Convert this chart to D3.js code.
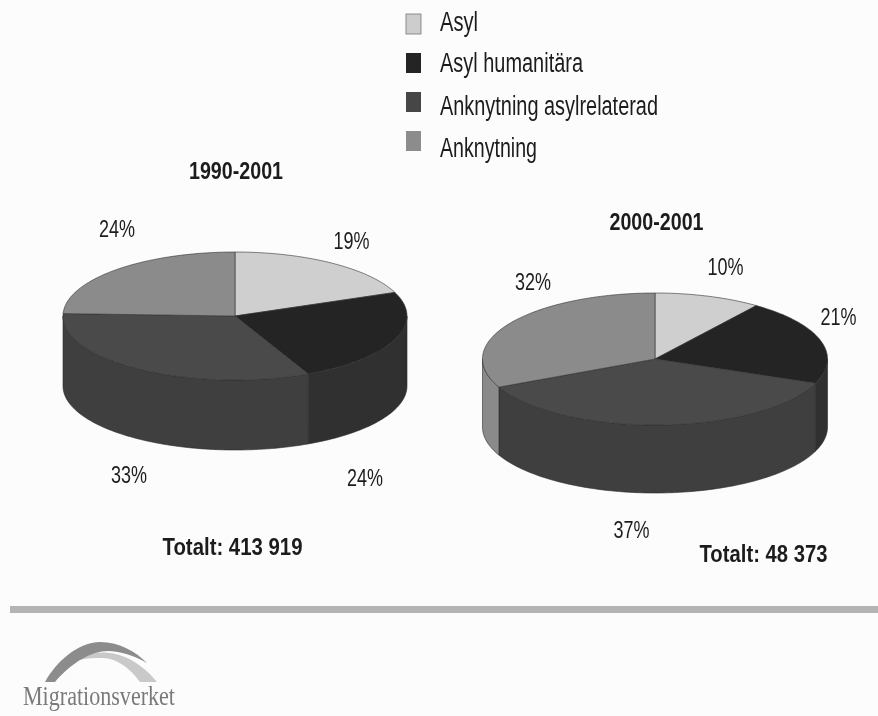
<!DOCTYPE html>
<html><head><meta charset="utf-8">
<script src="https://cdn.jsdelivr.net/npm/d3@7"></script>
<style>
html,body{margin:0;padding:0;background:#fcfcfc;}
svg{display:block;}
text{font-family:"Liberation Sans",Arial,sans-serif;fill:#1c1c1c;}
</style></head><body>
<svg id="c" width="878" height="716"></svg>
<script>
// ---- data ----
const categories = ["Asyl","Asyl humanitära","Anknytning asylrelaterad","Anknytning"];
const titles = ["1990-2001","2000-2001"];
const totals = ["Totalt: 413 919","Totalt: 48 373"];
const values1990 = [19,24,32.6,24.4];
const values2000 = [10,21,37,32];
const brandName = "Migrationsverket";

// ---- style & layout ----
const topColors  = ["#cfcfcf","#242424","#4a4a4a","#8b8b8b"];
const wallColors = ["#bdbdbd","#303030","#3f3f3f","#8a8a8a"];
const legendColors = ["#cdcdcd","#242424","#464646","#8c8c8c"];
const pies = [
 {values:values1990,cx:235,cy:316,rx:172,ry:64,depth:70,
  title:{x:236,y:179,w:94},total:{x:232.5,y:555,w:140},
  labels:[[351.5,249],[365,486],[129,483],[117,237]]},
 {values:values2000,cx:655,cy:359,rx:172.5,ry:66,depth:68,
  title:{x:656.5,y:230,w:94},total:{x:763.5,y:562,w:128},
  labels:[[725.5,275],[838.5,325],[631.5,538],[533,290]]}
];
const legendRows = [{y:14,b:31,w:38},{y:53,b:72,w:143},{y:92,b:115,w:218},{y:131,b:157,w:97}];

const svg = d3.select("#c");
const root = svg.append("g").style("filter","blur(0.45px)");

// fit text horizontally (the scan's type is condensed)
function label(g,str,x,y,size,w,anchor,weight){
  return g.append("text").text(str).attr("x",x).attr("y",y)
    .attr("font-size",size).attr("font-weight",weight||"normal")
    .attr("text-anchor",anchor||"middle")
    .attr("textLength",w).attr("lengthAdjust","spacingAndGlyphs");
}

// ---- pies ----
const pieGen = d3.pie().sort(null).value(d=>d);
const line = d3.line();
pies.forEach((p,k)=>{
  const g = root.append("g");
  const px = a=>p.cx+p.rx*Math.sin(a);
  const py = a=>p.cy-p.ry*Math.cos(a);
  const arcPts = (a0,a1,dy)=>{
    const n=Math.max(2,Math.ceil(Math.abs(a1-a0)*40));
    return d3.range(n+1).map(i=>{const a=a0+(a1-a0)*i/n;return [px(a),py(a)+(dy||0)];});
  };
  const arcs = pieGen(p.values);
  // walls: only the front half of the rim is visible
  arcs.forEach((d,i)=>{
    const a0=Math.max(d.startAngle,Math.PI/2), a1=Math.min(d.endAngle,Math.PI*1.5);
    if(a1<=a0) return;
    const pts=arcPts(a0,a1,0).concat(arcPts(a1,a0,p.depth));
    g.append("path").attr("d",line(pts)+"Z").attr("fill",wallColors[i])
      .attr("stroke","#2a2a2a").attr("stroke-width",0.6);
  });
  // top face
  arcs.forEach((d,i)=>{
    const pts=[[p.cx,p.cy]].concat(arcPts(d.startAngle,d.endAngle,0));
    g.append("path").attr("d",line(pts)+"Z").attr("fill",topColors[i])
      .attr("stroke","#333").attr("stroke-width",0.6);
  });
  label(g,titles[k],p.title.x,p.title.y,23,p.title.w,"middle","bold");
  label(g,totals[k],p.total.x,p.total.y,23,p.total.w,"middle","bold");
  p.values.forEach((v,i)=>label(g,Math.round(v)+"%",p.labels[i][0],p.labels[i][1],23,36,"middle"));
});

// ---- legend ----
categories.forEach((c,i)=>{
  const r=legendRows[i];
  root.append("rect").attr("x",406).attr("y",r.y).attr("width",15).attr("height",20)
    .attr("fill",legendColors[i]).attr("stroke",i===0?"#777":"none").attr("stroke-width",0.8);
  label(root,c,440,r.b,27,r.w,"start");
});

// ---- footer ----
root.append("rect").attr("x",10).attr("y",606).attr("width",868).attr("height",7).attr("fill","#b4b4b4");
root.append("path").attr("d","M80 658C92 652 104 652 110 653C128 655 146 668 157 682H140C130 668 116 658 103 658C95 658 87 658 80 660Z").attr("fill","#c9c9c9");
root.append("path").attr("d","M45 682C56 662 78 642 100 642C120 642 136 652 147 663C134 655 118 651 108 651C92 651 72 662 55 682Z").attr("fill","#8c8c8c");
root.append("text").text(brandName).attr("x",23).attr("y",705).attr("font-size",27)
  .attr("textLength",152).attr("lengthAdjust","spacingAndGlyphs")
  .style("font-family","'Liberation Serif',serif").style("fill","#7a7a7a");
</script></body></html>
